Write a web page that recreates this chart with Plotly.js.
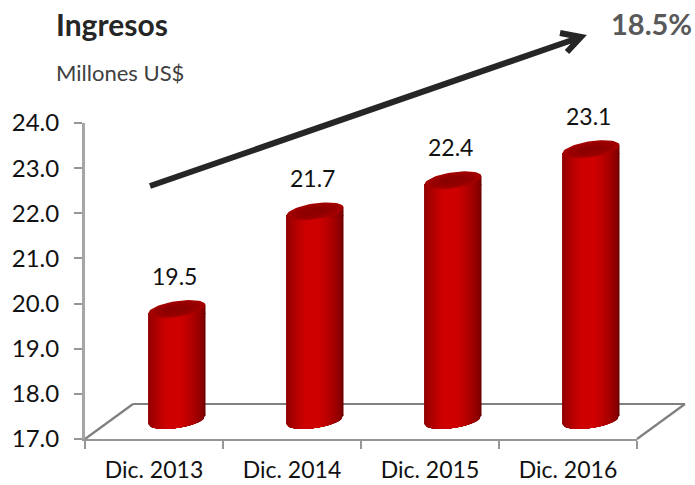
<!DOCTYPE html>
<html><head><meta charset="utf-8">
<script src="https://cdn.plot.ly/plotly-3.0.1.min.js"></script>
<style>html,body{margin:0;padding:0;background:#fff}#c{width:695px;height:485px}</style>
</head><body><div id="c"></div>
<script>
const categories = ["Dic. 2013","Dic. 2014","Dic. 2015","Dic. 2016"];
const values = [19.5,21.7,22.4,23.1];
const valueLabels = ["19.5","21.7","22.4","23.1"];
const yTicks = [17,18,19,20,21,22,23,24];
const yTickLabels = ["17.0","18.0","19.0","20.0","21.0","22.0","23.0","24.0"];

const W=695,H=485,L=85,R=637,T=123,B=439;
const PX_PER_CAT=(R-L)/4;
const S=44.4; // the 3-D back plane is slightly compressed
const px=v=>(v-L)/(R-L), py=v=>(B-v)/(B-T);
const BAR_W=57/PX_PER_CAT, A=BAR_W/2;
const TILT=4/S, CAP_B=8/S;
const xs=values.map((_,i)=>i);

function lerp(a,b,t){return Math.round(a+(b-a)*t);}
function shade(t){ return `rgb(${lerp(112,206,Math.pow(t,0.6))},0,0)`; }
const N=16, bands=[];
for(let i=0;i<N;i++){
  const t=i/(N-1);
  const l=-0.5+Math.max(0,t-0.2)/0.8*0.32;
  const r=0.5-t*0.42;
  bands.push({l:l*BAR_W,r:r*BAR_W,color:shade(t)});
}
const traces=[];
const common={xaxis:'x2',yaxis:'y2',hoverinfo:'skip',showlegend:false};
traces.push({type:'scatter',mode:'none',x:categories,y:values,xaxis:'x',yaxis:'y',hoverinfo:'skip',showlegend:false});
const CENTER0=17+TILT, BASE=17+2*TILT;
bands.forEach(b=>{
  traces.push(Object.assign({type:'bar',x:xs,y:values.map(v=>v-BASE),base:values.map(()=>BASE),
    width:b.r-b.l,offset:b.l,marker:{color:b.color,line:{width:0}}},common));
});
bands.forEach(b=>{
  const X=[],Y=[];
  xs.forEach((c,i)=>{
    const steps=24;
    for(let k=0;k<=steps;k++){
      const x=b.l+(b.r-b.l)*k/steps,u=x/A;
      X.push(c+x);Y.push(CENTER0+TILT*u-CAP_B*Math.sqrt(Math.max(0,1-u*u)));
    }
    X.push(c+b.r,c+b.l);Y.push(BASE+0.02,BASE+0.02);
    X.push(null);Y.push(null);
    X.push(c+b.l,c+b.l,c+b.r,c+b.r);
    Y.push(values[i]-0.02,values[i]+TILT+TILT*b.l/A,values[i]+TILT+TILT*b.r/A,values[i]-0.02);
    X.push(null);Y.push(null);
  });
  traces.push(Object.assign({type:'scatter',mode:'lines',x:X,y:Y,fill:'toself',fillcolor:b.color,line:{width:0,color:b.color}},common));
});
function cap(scale,color){
  const X=[],Y=[];
  xs.forEach((c,i)=>{
    for(let k=0;k<=60;k++){
      const th=2*Math.PI*k/60,u=Math.cos(th);
      X.push(c+A*scale*u);Y.push(values[i]+TILT+TILT*u*scale+CAP_B*scale*Math.sin(th));
    }
    X.push(null);Y.push(null);
  });
  traces.push(Object.assign({type:'scatter',mode:'lines',x:X,y:Y,fill:'toself',fillcolor:color,line:{width:0,color:color}},common));
}
cap(1,'#a30000');cap(0.8,'#960000');cap(0.5,'#8c0000');

const annotations=[
 {text:'<b>Ingresos</b>',x:px(54),y:py(24),xanchor:'left',font:{size:30,color:'#262626'}},
 {text:'Millones US$',x:px(54),y:py(72),xanchor:'left',font:{size:22,color:'#404040'}},
 {text:'<b>18.5%</b>',x:px(694),y:py(23),xanchor:'right',font:{size:29,color:'#595959'}}
].map(a=>Object.assign(a,{xref:'paper',yref:'paper',yanchor:'middle',showarrow:false}));
values.forEach((v,i)=>annotations.push({text:valueLabels[i],xref:'x2',yref:'y2',x:i,y:v,yanchor:'middle',
  yshift:37,xshift:-3,showarrow:false,font:{size:23,color:'#111111'}}));

const floorLine={color:'#808080',width:2.2};
const seg=(a,b,c,d,line,layer)=>({type:'line',xref:'paper',yref:'paper',x0:px(a),y0:py(b),x1:px(c),y1:py(d),line,layer});
const shapes=[
  seg(133,404,685,404,floorLine,'below'),
  seg(85,439,133,404,floorLine,'below'),
  seg(637,439,685,404,floorLine,'below'),
  {type:'path',xref:'paper',yref:'paper',layer:'above',line:{color:'#262626',width:6},
   path:`M${px(150)},${py(186)} L${px(581)},${py(37)} M${px(560)},${py(33)} L${px(581)},${py(37)} L${px(567)},${py(52)}`}
];

Plotly.newPlot('c',traces,{
  width:W,height:H,autosize:false,showlegend:false,barmode:'overlay',
  paper_bgcolor:'#fff',plot_bgcolor:'rgba(0,0,0,0)',
  margin:{l:L,r:W-R,t:T,b:H-B,pad:0},
  font:{family:'Lato, Carlito, sans-serif',color:'#111'},
  xaxis:{type:'category',categories:categories,categoryorder:'array',categoryarray:categories,range:[-0.5,3.5],
    tickson:'boundaries',ticks:'outside',ticklen:8,tickwidth:2,tickcolor:'#969696',ticklabelstandoff:9,
    showline:true,linecolor:'#969696',linewidth:2,showgrid:false,zeroline:false,
    tickfont:{size:23,color:'#111'},fixedrange:true},
  yaxis:{range:[17,24],tickmode:'array',tickvals:yTicks,ticktext:yTickLabels,ticks:'outside',ticklen:8,tickwidth:2,tickcolor:'#969696',ticklabelstandoff:10,
    showline:true,linecolor:'#a6a6a6',linewidth:3,showgrid:false,zeroline:false,tickfont:{size:24,color:'#111'},fixedrange:true},
  xaxis2:{overlaying:'x',anchor:'y2',range:[-0.5-23/PX_PER_CAT,3.5-23/PX_PER_CAT],visible:false,fixedrange:true},
  yaxis2:{overlaying:'y',anchor:'x2',range:[17-(B-424)/S,17+(424-T)/S],visible:false,fixedrange:true},
  annotations,shapes
},{displayModeBar:false,staticPlot:true});
</script></body></html>
